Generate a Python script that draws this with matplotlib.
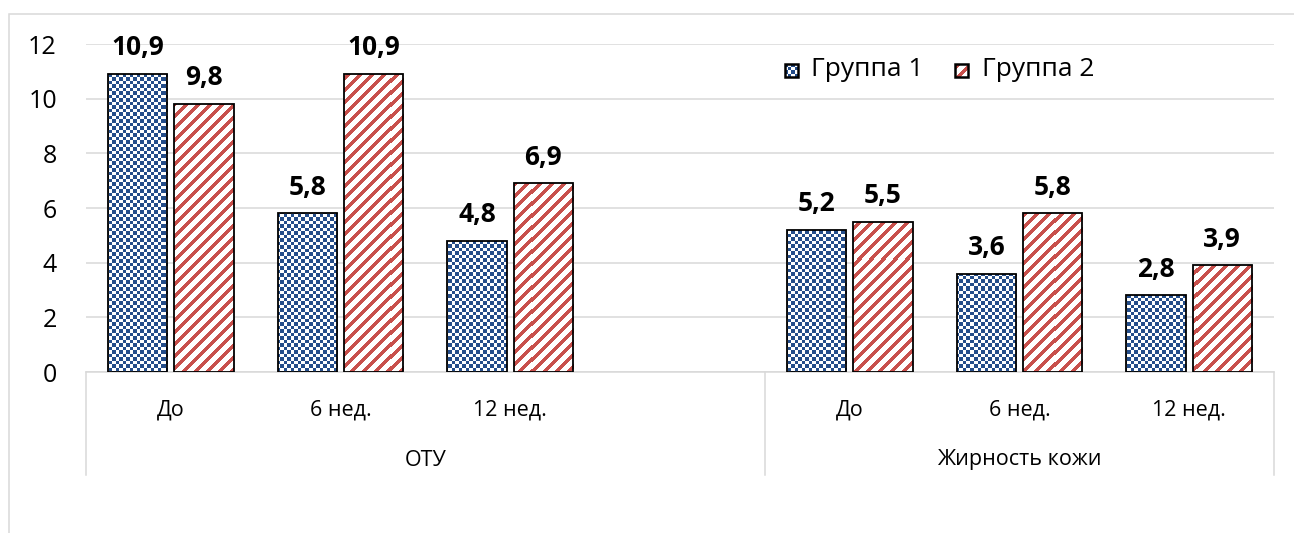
import numpy as np
import matplotlib
matplotlib.use('Agg')
import matplotlib.pyplot as plt
from matplotlib.patches import Rectangle
from matplotlib.transforms import blended_transform_factory

plt.rcParams['font.family'] = ['Open Sans', 'DejaVu Sans']

# ---- data ----
groups       = ['ОТУ', 'Жирность кожи']
periods      = ['До', '6 нед.', '12 нед.']
series_names = ['Группа 1', 'Группа 2']
group1_vals  = [10.9, 5.8, 4.8, 5.2, 3.6, 2.8]
group2_vals  = [9.8, 10.9, 6.9, 5.5, 5.8, 3.9]
y_ticks      = [0, 2, 4, 6, 8, 10, 12]

BLUE = '#244D8A'
RED  = '#C8504C'
GRID = '#D9D9D9'

W, H, DPI = 1294, 533, 100

# category slots: 3 periods, an empty slot, then 3 periods
xpos = np.array([0, 1, 2, 4, 5, 6])
xcat = np.tile(periods, 2)


def pattern_fill(ax, patch, kind, zorder=3):
    """Fill a patch with a pixel pattern (checker or '/' stripes)."""
    bb = patch.get_window_extent()
    cx0, cx1 = int(np.floor(bb.x0)), int(np.ceil(bb.x1))
    cy0, cy1 = int(np.floor(bb.y0)), int(np.ceil(bb.y1))
    cols = np.arange(cx0, cx1)
    rows = (H - 1) - np.arange(cy1 - 1, cy0 - 1, -1)   # pixel row from top
    X, Y = np.meshgrid(cols, rows)
    if kind == 'checker':
        on = (X % 7 < 4) == (Y % 7 < 4)
        rgb = matplotlib.colors.to_rgb(BLUE)
    else:
        on = ((X + Y) % 12) < 5
        rgb = matplotlib.colors.to_rgb(RED)
    img = np.ones(on.shape + (3,))
    img[on] = rgb
    inv = ax.transData.inverted()
    (dx0, dy0), (dx1, dy1) = inv.transform([(cx0, cy0), (cx1, cy1)])
    im = ax.imshow(img, extent=[dx0, dx1, dy0, dy1], origin='upper',
                   interpolation='nearest', aspect='auto', zorder=zorder)
    im.set_clip_path(patch)
    return im


fig = plt.figure(figsize=(W / DPI, H / DPI), dpi=DPI)
ax = fig.add_axes([86 / W, (H - 372) / H, 1188 / W, 328 / H])
ax.set_xlim(-0.5, 6.5)
ax.set_ylim(0, 12)

# outer chart frame
fig.patches.append(Rectangle((8.5 / W, -0.1), 1.2, (H - 13.5) / H + 0.1,
                             transform=fig.transFigure, facecolor='none',
                             edgecolor=GRID, linewidth=1.1, zorder=0))

for s in ax.spines.values():
    s.set_visible(False)
ax.set_yticks(y_ticks)
ax.tick_params(axis='y', length=0, pad=21, labelsize=18)
ax.set_xticks([])
ax.yaxis.grid(True, color=GRID, linewidth=1.1)
ax.set_axisbelow(True)

bw, off = 0.35, 0.195
bars1 = ax.bar(xpos - off, group1_vals, width=bw, facecolor='none',
               edgecolor='black', linewidth=1.3, zorder=4)
bars2 = ax.bar(xpos + off, group2_vals, width=bw, facecolor='none',
               edgecolor='black', linewidth=1.3, zorder=4)

fig.canvas.draw()
for b in bars1:
    pattern_fill(ax, b, 'checker')
for b in bars2:
    pattern_fill(ax, b, 'stripes')

for bars, vals in ((bars1, group1_vals), (bars2, group2_vals)):
    for b, v in zip(bars, vals):
        ax.annotate(f'{v:.1f}'.replace('.', ','),
                    (b.get_x() + b.get_width() / 2, v),
                    xytext=(0, 13.5), textcoords='offset points',
                    ha='center', va='baseline', fontsize=19,
                    fontweight='bold', zorder=5)

# multi-level category axis
bt = blended_transform_factory(ax.transData, ax.transAxes)
ax.plot([-0.5, 6.5], [0, 0], transform=bt, color=GRID, linewidth=1.1,
        clip_on=False, zorder=2)
for xs in (-0.5, 3.5, 6.5):
    ax.plot([xs, xs], [0, -103 / 328], transform=bt, color=GRID,
            linewidth=1.1, clip_on=False)
for x, lab in zip(xpos, xcat):
    ax.text(x, -38 / 328, lab, transform=bt, ha='center', va='center',
            fontsize=15.5)
ax.text(1.5, -88 / 328, groups[0], transform=bt, ha='center', va='center',
        fontsize=15.5)
ax.text(5.0, -88 / 328, groups[1], transform=bt, ha='center', va='center',
        fontsize=15.5)

# legend
for (lx, tx), kind, name in zip(((785, 811), (955, 982)),
                                ('checker', 'stripes'), series_names):
    r = Rectangle(((lx - 86) / 1188, (372 - 77) / 328), 13 / 1188, 13 / 328,
                  transform=ax.transAxes, facecolor='none', edgecolor='black',
                  linewidth=1.8, zorder=5)
    ax.add_patch(r)
    pattern_fill(ax, r, kind)
    ax.text((tx - 86) / 1188, (372 - 70) / 328, name, transform=ax.transAxes,
            ha='left', va='center', fontsize=19)

ax.set_xlim(-0.5, 6.5)
ax.set_ylim(0, 12)

fig.savefig('out.png', dpi=DPI)
